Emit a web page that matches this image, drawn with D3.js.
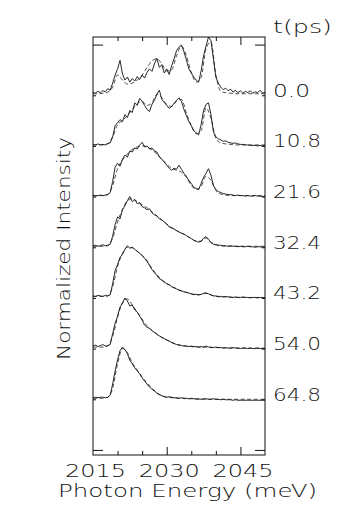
<!DOCTYPE html>
<html>
<head>
<meta charset="utf-8">
<script src="https://cdn.jsdelivr.net/npm/d3@7"></script>
<style>
  body { margin: 0; background: #fff; }
  svg { display: block; }
  text { font-family: "DejaVu Sans", sans-serif; font-weight: 300; fill: #111; }
</style>
</head>
<body>
<script>
// delays (ps), one spectrum per delay, stacked from top to bottom
var delays = ["0.0", "10.8", "21.6", "32.4", "43.2", "54.0", "64.8"];

// energy grids (meV): measured spectra every 0.5 meV, calculated ones every 1 meV
var exptEnergy = d3.range(2015, 2050.001, 0.5);
var calcEnergy = d3.range(2015, 2050.001, 1);

var expt_00 = [0.06,0.04,0.08,0.05,0.09,0.07,0.13,0.10,0.24,0.40,0.52,0.69,0.42,0.30,0.36,0.26,0.33,0.28,0.37,0.31,
  0.40,0.34,0.45,0.52,0.47,0.62,0.73,0.55,0.60,0.44,0.52,0.41,0.58,0.72,0.88,0.95,0.99,0.86,0.70,0.52,
  0.44,0.36,0.30,0.26,0.48,0.78,0.97,1.15,1.08,0.72,0.36,0.24,0.16,0.11,0.14,0.09,0.12,0.06,0.10,0.05,
  0.09,0.04,0.08,0.05,0.09,0.04,0.07,0.05,0.10,0.04,0.06];
var expt_108 = [0.03,0.02,0.04,0.02,0.03,0.02,0.05,0.06,0.18,0.40,0.46,0.52,0.48,0.62,0.56,0.70,0.66,0.85,0.80,0.94,
  0.88,0.80,0.72,0.68,0.82,0.90,1.02,1.10,0.92,0.86,0.80,0.74,0.78,0.84,0.90,0.95,0.88,0.72,0.60,0.48,
  0.40,0.30,0.26,0.22,0.42,0.70,0.82,0.85,0.62,0.28,0.18,0.14,0.12,0.09,0.10,0.07,0.06,0.05,0.06,0.04,
  0.03,0.03,0.02,0.02,0.01,0.01,0.01,0.00,0.01,0.00,0.01];
var expt_216 = [0.03,0.01,0.02,0.03,0.02,0.03,0.04,0.08,0.30,0.58,0.66,0.60,0.74,0.82,0.78,0.90,0.88,0.96,0.94,1.02,
  1.07,0.98,1.00,0.94,0.96,0.90,0.88,0.78,0.74,0.68,0.62,0.56,0.52,0.56,0.54,0.62,0.54,0.46,0.40,0.32,
  0.26,0.18,0.16,0.14,0.26,0.38,0.46,0.55,0.42,0.22,0.14,0.10,0.08,0.06,0.05,0.04,0.04,0.03,0.02,0.03,
  0.02,0.02,0.01,0.02,0.01,0.01,0.02,0.01,0.01,0.00,0.01];
var expt_324 = [0.03,0.04,0.02,0.03,0.05,0.03,0.04,0.06,0.22,0.45,0.60,0.56,0.74,0.82,0.92,1.00,0.90,0.94,0.86,0.88,
  0.80,0.78,0.74,0.76,0.68,0.64,0.62,0.56,0.54,0.50,0.46,0.40,0.38,0.36,0.33,0.30,0.28,0.26,0.23,0.20,
  0.17,0.14,0.12,0.10,0.12,0.18,0.21,0.16,0.09,0.06,0.05,0.04,0.04,0.03,0.03,0.02,0.03,0.02,0.02,0.01,
  0.02,0.01,0.01,0.02,0.01,0.01,0.00,0.01,0.01,0.00,0.01];
var expt_432 = [0.04,0.03,0.05,0.04,0.03,0.05,0.04,0.06,0.28,0.54,0.66,0.80,0.86,0.96,1.03,0.98,1.00,0.96,0.92,0.88,
  0.84,0.78,0.72,0.64,0.56,0.50,0.44,0.38,0.35,0.31,0.28,0.26,0.22,0.20,0.18,0.15,0.14,0.12,0.11,0.10,
  0.08,0.07,0.07,0.06,0.07,0.09,0.10,0.08,0.06,0.04,0.04,0.03,0.03,0.02,0.03,0.02,0.02,0.01,0.02,0.01,
  0.01,0.02,0.01,0.01,0.00,0.01,0.01,0.00,0.01,0.00,0.00];
var expt_540 = [0.05,0.07,0.04,0.06,0.08,0.05,0.06,0.08,0.30,0.50,0.64,0.82,0.90,1.00,0.94,0.84,0.86,0.76,0.72,0.64,
  0.56,0.46,0.42,0.40,0.35,0.32,0.28,0.25,0.22,0.20,0.17,0.15,0.12,0.10,0.08,0.07,0.06,0.05,0.05,0.04,
  0.05,0.04,0.04,0.03,0.04,0.03,0.05,0.03,0.03,0.02,0.03,0.02,0.02,0.01,0.02,0.01,0.01,0.02,0.01,0.01,
  0.00,0.01,0.01,0.00,0.01,0.00,0.00,0.01,0.00,0.00,0.00];
var expt_648 = [0.03,0.04,0.03,0.04,0.04,0.03,0.04,0.08,0.30,0.56,0.78,0.96,1.03,0.98,0.90,0.77,0.70,0.62,0.56,0.50,
  0.42,0.36,0.30,0.24,0.20,0.16,0.12,0.09,0.07,0.05,0.04,0.05,0.04,0.03,0.03,0.02,0.03,0.02,0.02,0.01,
  0.02,0.01,0.01,0.01,0.00,0.01,0.01,0.00,0.00,0.01,0.00,0.00,-0.01,0.00,-0.01,-0.01,-0.01,-0.02,-0.01,-0.02,
  -0.02,-0.02,-0.02,-0.02,-0.02,-0.02,-0.02,-0.02,-0.02,-0.02,-0.02];

// calculated spectra (dashed)
var calc_00 = [0.03,0.03,0.04,0.06,0.16,0.40,0.30,0.22,0.24,0.30,0.40,0.55,0.68,0.72,0.62,0.48,0.50,0.78,0.97,0.78,
  0.45,0.26,0.35,0.92,1.05,0.40,0.08,0.05,0.04,0.03,0.03,0.03,0.03,0.03,0.03,0.03];
var calc_108 = [0.02,0.02,0.02,0.04,0.18,0.42,0.50,0.60,0.72,0.84,0.88,0.80,0.85,1.02,0.95,0.82,0.78,0.88,0.92,0.65,
  0.40,0.24,0.30,0.75,0.55,0.15,0.06,0.04,0.03,0.02,0.02,0.02,0.02,0.02,0.02,0.02];
var calc_216 = [0.02,0.02,0.02,0.04,0.22,0.55,0.72,0.84,0.93,0.98,1.00,0.98,0.92,0.84,0.74,0.64,0.56,0.52,0.48,0.38,
  0.22,0.14,0.20,0.40,0.32,0.12,0.05,0.03,0.02,0.02,0.02,0.02,0.02,0.02,0.02,0.02];
var calc_324 = [0.02,0.02,0.02,0.03,0.18,0.50,0.75,0.92,0.96,0.90,0.84,0.78,0.70,0.62,0.54,0.46,0.39,0.33,0.28,0.23,
  0.17,0.12,0.12,0.18,0.10,0.05,0.03,0.02,0.02,0.02,0.02,0.02,0.02,0.02,0.02,0.02];
var calc_432 = [0.03,0.03,0.03,0.04,0.22,0.62,0.88,1.00,0.99,0.92,0.84,0.74,0.58,0.46,0.36,0.29,0.23,0.18,0.14,0.11,
  0.08,0.06,0.07,0.09,0.06,0.03,0.02,0.02,0.01,0.01,0.01,0.01,0.01,0.01,0.01,0.01];
var calc_540 = [0.03,0.03,0.03,0.05,0.24,0.62,0.90,0.98,0.86,0.72,0.58,0.45,0.36,0.29,0.22,0.17,0.12,0.09,0.06,0.05,
  0.04,0.03,0.03,0.03,0.02,0.02,0.02,0.01,0.01,0.01,0.01,0.01,0.01,0.01,0.01,0.01];
var calc_648 = [0.02,0.02,0.02,0.04,0.22,0.70,1.00,0.92,0.72,0.58,0.44,0.32,0.22,0.13,0.07,0.04,0.03,0.02,0.02,0.01,
  0.01,0.00,0.00,0.00,0.00,0.00,0.00,0.00,0.00,0.00,0.00,0.00,0.00,0.00,0.00,0.00];

var exptSeries = [expt_00, expt_108, expt_216, expt_324, expt_432, expt_540, expt_648];
var calcSeries = [calc_00, calc_108, calc_216, calc_324, calc_432, calc_540, calc_648];

// vertical offset of each spectrum (top one highest)
var offsets = [7, 6, 5, 4, 3, 2, 1];

var xMinorTicks = [2020, 2025, 2035, 2040];
var xMajorTicks = [2030, 2045];
var xLabels = [2015, 2030, 2045];

// Chart Parameters
var svgWidth = 353;
var svgHeight = 514;
var margin = { top: 37, right: 88, bottom: 59, left: 93 };
var width = svgWidth - margin.left - margin.right;
var height = svgHeight - margin.top - margin.bottom;

var svg = d3.select("body")
            .append("svg")
            .attr("width", svgWidth)
            .attr("height", svgHeight);

var chartGroup = svg.append("g")
                    .attr("transform", `translate(${margin.left}, ${margin.top})`);

// scales
var xScale = d3.scaleLinear().domain([2015, 2050]).range([0, width]);
var yScale = d3.scaleLinear().domain([-0.1, 8.15]).range([height, 0]);

// frame
chartGroup.append("rect")
          .attr("width", width)
          .attr("height", height)
          .attr("fill", "none")
          .attr("stroke", "#111")
          .attr("stroke-width", 1);

function tickAxis(axis, tx, ty) {
  var g = chartGroup.append("g")
                    .attr("transform", `translate(${tx}, ${ty})`)
                    .call(axis.tickFormat(""));
  g.select(".domain").remove();
  g.selectAll("line").attr("stroke", "#111").attr("stroke-width", 1);
}

// x ticks, inward on bottom and top
tickAxis(d3.axisBottom(xScale).tickValues(xMinorTicks).tickSize(-4), 0, height);
tickAxis(d3.axisBottom(xScale).tickValues(xMajorTicks).tickSize(-8), 0, height);
tickAxis(d3.axisTop(xScale).tickValues(xMinorTicks).tickSize(-4), 0, 0);
tickAxis(d3.axisTop(xScale).tickValues(xMajorTicks).tickSize(-8), 0, 0);

// y ticks, at the baselines and the two ends
tickAxis(d3.axisLeft(yScale).tickValues(offsets).tickSize(-3), 0, 0);
tickAxis(d3.axisLeft(yScale).tickValues([0, 8]).tickSize(-10), 0, 0);
tickAxis(d3.axisRight(yScale).tickValues(offsets).tickSize(-3), width, 0);
tickAxis(d3.axisRight(yScale).tickValues([0, 8]).tickSize(-10), width, 0);

// x tick labels
var labelAxis = chartGroup.append("g")
                          .attr("transform", `translate(0, ${height})`)
                          .call(d3.axisBottom(xScale).tickValues(xLabels).tickSize(0).tickPadding(9).tickFormat(d3.format("d")));
labelAxis.select(".domain").remove();
labelAxis.selectAll("text")
         .attr("font-family", "DejaVu Sans, sans-serif")
         .attr("font-size", 18)
         .attr("fill", "#111")
         .attr("dx", 2)
         .attr("textLength", 61)
         .attr("lengthAdjust", "spacingAndGlyphs");

// spectra
var solidLine = d3.line()
                  .x((d, i) => xScale(exptEnergy[i]))
                  .y(d => d);
var dashedLine = d3.line()
                   .x((d, i) => xScale(calcEnergy[i]))
                   .y(d => d)
                   .curve(d3.curveMonotoneX);

delays.forEach(function(t, k) {
  var base = offsets[k];

  chartGroup.append("path")
            .attr("d", dashedLine(calcSeries[k].map(v => yScale(Math.min(v + base, 8.17)))))
            .attr("fill", "none")
            .attr("stroke", "#222")
            .attr("stroke-width", 0.8)
            .attr("stroke-dasharray", "4,2.5");

  chartGroup.append("path")
            .attr("d", solidLine(exptSeries[k].map(v => yScale(Math.min(v + base, 8.17)))))
            .attr("fill", "none")
            .attr("stroke", "#111")
            .attr("stroke-width", 0.9)
            .attr("stroke-linejoin", "round");

  // delay label on the right
  svg.append("text")
     .attr("x", margin.left + width + 8)
     .attr("y", margin.top + yScale(base) + 1.5)
     .attr("font-size", 18)
     .attr("textLength", t.length === 3 ? 37 : 48)
     .attr("lengthAdjust", "spacingAndGlyphs")
     .text(t);
});

svg.append("text")
   .attr("x", 273)
   .attr("y", 33)
   .attr("font-size", 18)
   .attr("textLength", 59)
   .attr("lengthAdjust", "spacingAndGlyphs")
   .text("t(ps)");

// axis titles
svg.append("text")
   .attr("x", 58)
   .attr("y", 497)
   .attr("font-size", 18)
   .attr("textLength", 259)
   .attr("lengthAdjust", "spacingAndGlyphs")
   .text("Photon Energy (meV)");

svg.append("text")
   .attr("transform", "translate(70, 360) rotate(-90)")
   .attr("font-size", 18)
   .attr("textLength", 223)
   .attr("lengthAdjust", "spacingAndGlyphs")
   .text("Normalized Intensity");
</script>
</body>
</html>
